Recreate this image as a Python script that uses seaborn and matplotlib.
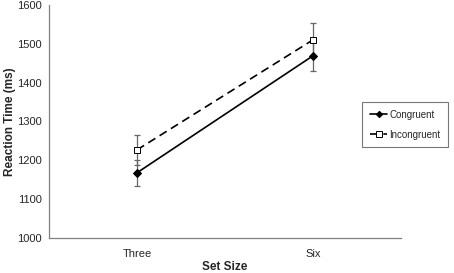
import numpy as np
import pandas as pd
import matplotlib
matplotlib.use("Agg")
import matplotlib.pyplot as plt
import seaborn as sns

set_sizes = ["Three", "Six"]
congruent = [1168, 1469]
congruent_err = [34, 39]
incongruent = [1227, 1510]
incongruent_err = [38, 44]

sns.set_style("white")
plt.rcParams['font.family'] = ['Liberation Sans', 'DejaVu Sans']

df = pd.DataFrame({
    'pos': [0, 1, 0, 1],
    'rt': congruent + incongruent,
    'cond': ['Congruent'] * 2 + ['Incongruent'] * 2,
})

fig = plt.figure(figsize=(4.54, 2.73), dpi=100)
ax = fig.add_axes([0.108, 0.128, 0.775, 0.854])

# error bars first so markers sit on top
ax.errorbar([0, 1], congruent, yerr=congruent_err, fmt='none', ecolor='#666666',
            elinewidth=0.9, capsize=2.5, capthick=0.9, zorder=1)
ax.errorbar([0, 1], incongruent, yerr=incongruent_err, fmt='none', ecolor='#666666',
            elinewidth=0.9, capsize=2.5, capthick=0.9, zorder=1)

sns.lineplot(data=df[df.cond == 'Congruent'], x='pos', y='rt', ax=ax, color='black',
             linewidth=1.2, marker='D', markersize=4, markerfacecolor='black',
             markeredgecolor='black', label='Congruent', zorder=3)
sns.lineplot(data=df[df.cond == 'Incongruent'], x='pos', y='rt', ax=ax, color='black',
             linewidth=1.2, linestyle=(0, (5, 3)), marker='s', markersize=5,
             markerfacecolor='white', markeredgecolor='black', markeredgewidth=0.7,
             label='Incongruent', zorder=3)

ax.set_xlim(-0.5, 1.5)
ax.set_ylim(1000, 1600)
ax.set_yticks(np.arange(1000, 1601, 100))
ax.set_xticks([-0.5, 0.5, 1.5])
ax.set_xticklabels([])
ax.set_xticks([0, 1], minor=True)
ax.set_xticklabels(set_sizes, minor=True)
ax.tick_params(axis='x', which='major', direction='out', length=3, color='#808080', width=0.8)
ax.tick_params(axis='x', which='minor', length=0, pad=8, labelsize=8)
ax.tick_params(axis='y', direction='out', length=3, color='#808080', width=0.8, labelsize=8, pad=2)

for s in ['top', 'right']:
    ax.spines[s].set_visible(False)
for s in ['left', 'bottom']:
    ax.spines[s].set_color('#808080')
    ax.spines[s].set_linewidth(0.9)

ax.set_xlabel('Set Size', fontsize=8.5, fontweight='bold', labelpad=1)
ax.set_ylabel('Reaction Time (ms)', fontsize=8.5, fontweight='bold', labelpad=1)

ax.get_legend().remove()
handles, labels = ax.get_legend_handles_labels()
leg = fig.legend(handles, labels, loc='upper left', bbox_to_anchor=(362 / 454, 1 - 102 / 273),
                 frameon=True, fancybox=False, fontsize=7, handlelength=1.8,
                 handletextpad=0.2, borderpad=0.8, labelspacing=1.0, borderaxespad=0,
                 markerscale=0.8)
leg.get_frame().set_edgecolor('#555555')
leg.get_frame().set_linewidth(0.8)

fig.savefig('out.png', dpi=100)
